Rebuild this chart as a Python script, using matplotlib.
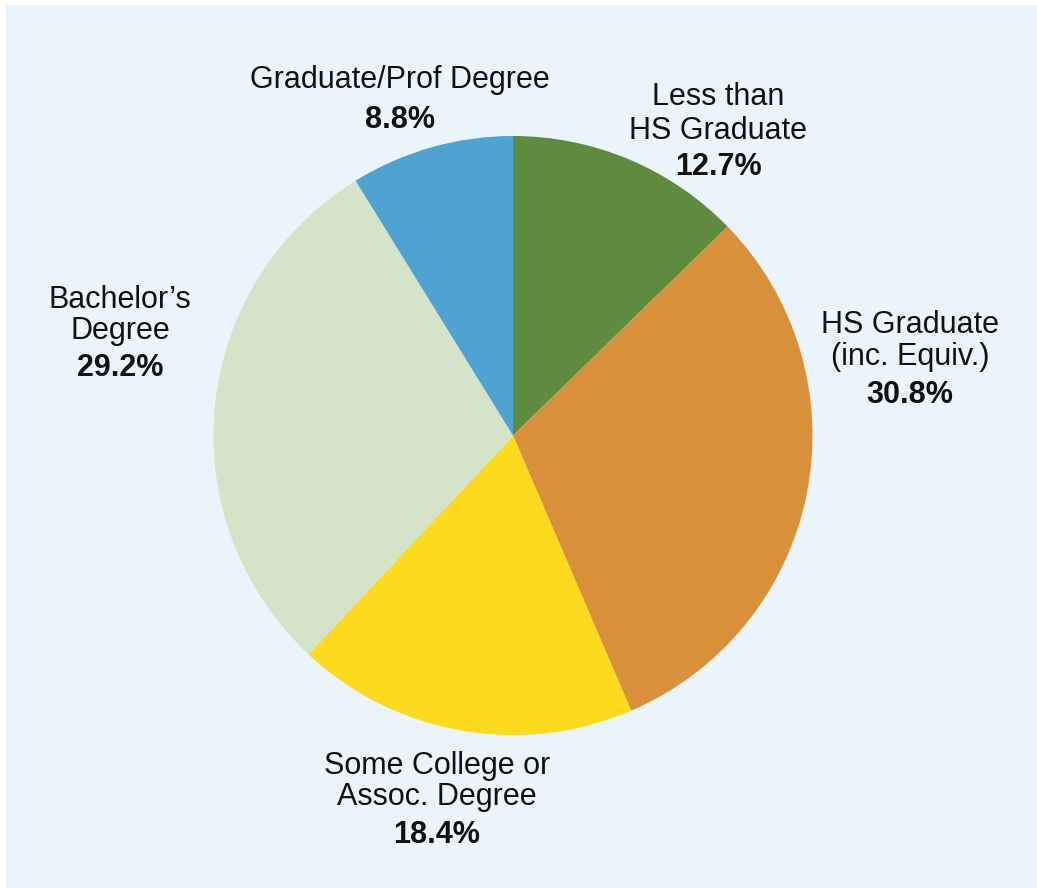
import matplotlib
matplotlib.use("Agg")
import matplotlib.pyplot as plt
from matplotlib.patches import Rectangle
from matplotlib import font_manager

categories = ["Less than\nHS Graduate", "HS Graduate\n(inc. Equiv.)", "Some College or\nAssoc. Degree",
              "Bachelor\u2019s\nDegree", "Graduate/Prof Degree"]
values = [12.7, 30.8, 18.4, 29.2, 8.8]
pct_labels = ["12.7%", "30.8%", "18.4%", "29.2%", "8.8%"]
colors = ["#5E8B3E", "#D8913A", "#FCDB1E", "#D5E4C8", "#4FA3D1"]

W, H = 1037, 888
fig = plt.figure(figsize=(W / 100, H / 100), dpi=100)
fig.patch.set_facecolor("white")
ax = fig.add_axes([0, 0, 1, 1])
ax.set_xlim(0, W)
ax.set_ylim(H, 0)
ax.axis("off")
ax.add_patch(Rectangle((6, 5), W + 10, H + 10, facecolor="#EBF3FB", edgecolor="none", zorder=0))

cx, cy, r = 513, 435.5, 299.5
pax = fig.add_axes([(cx - r) / W, 1 - (cy + r) / H, 2 * r / W, 2 * r / H])
pax.pie(values, colors=colors, startangle=90, counterclock=False, radius=1,
        wedgeprops=dict(linewidth=0, antialiased=True))
pax.set_xlim(-1, 1)
pax.set_ylim(-1, 1)
pax.set_aspect("auto")
pax.axis("off")

label_pos = [
    (718, [97, 131], 167),
    (910, [325, 357], 395),
    (437, [766, 797], 835),
    (120, [300, 331], 368),
    (400, [80], 120),
]
names = {f.name for f in font_manager.fontManager.ttflist}
fam = "Liberation Sans" if "Liberation Sans" in names else "Arial"
font = [fam, "DejaVu Sans"]
fs = 22
for cat, pct, (x, ys, py) in zip(categories, pct_labels, label_pos):
    for line, y in zip(cat.split("\n"), ys):
        ax.text(x, y, line, ha="center", va="center", fontsize=fs, family=font, color="#111111")
    ax.text(x, py, pct, ha="center", va="center", fontsize=fs, fontweight="bold", family=font, color="#111111")

fig.savefig("out.png", dpi=100, facecolor=fig.get_facecolor())
